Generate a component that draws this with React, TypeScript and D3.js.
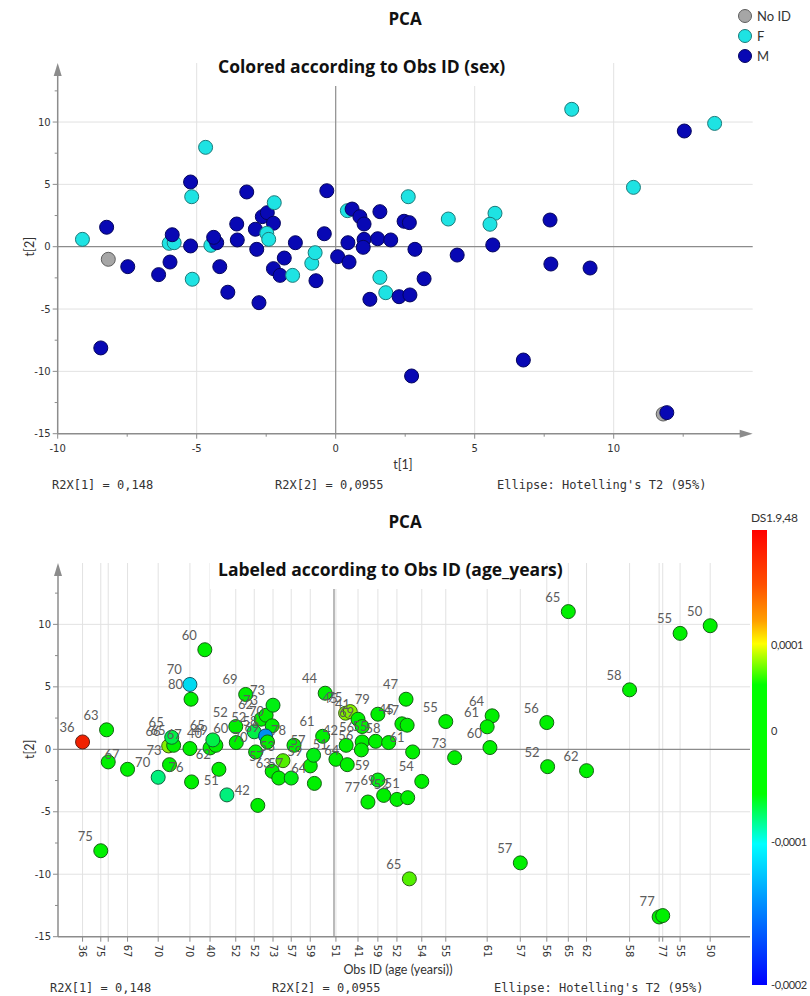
import React from "react";
import * as d3 from "d3";

// ---------- data ----------
const t1 = [
  -9.11, -8.24, -8.18, -7.48, -6.37, -5.96, -5.99, -5.81, -5.88, -5.22,
  -5.18, -5.22, -5.16, -4.68, -4.49, -4.28, -4.39, -4.17, -3.88, -3.56,
  -3.54, -3.2, -2.89, -2.84, -2.64, -2.46, -2.24, -2.48, -2.41, -2.21,
  -2.76, -2.24, -2.0, -1.85, -1.55, -1.45, -0.86, -0.74, -0.71, -0.41,
  -0.32, 0.07, 0.44, 0.48, 0.42, 0.59, 0.87, 1.02, 1.02, 0.99,
  1.51, 1.59, 1.59, 1.98, 2.46, 2.65, 2.61, 2.85, 3.18, 4.05,
  5.73, 5.55, 7.71, 4.37, 5.65, 7.74, 9.15, 8.49, 12.54, 13.63,
  10.71, -8.45, 1.23, 1.8, 2.28, 2.67, 2.73, 6.75, 11.78, 11.91,
];
const t2 = [
  0.59, 1.56, -1.01, -1.6, -2.24, -1.23, 0.27, 0.32, 0.96, 5.19,
  4.01, 0.06, -2.61, 7.97, 0.11, 0.32, 0.75, -1.6, -3.65, 1.82,
  0.54, 4.39, 1.4, -0.21, 2.41, 2.73, 1.88, 1.07, 0.59, 3.53,
  -4.49, -1.76, -2.3, -0.91, -2.3, 0.32, -1.33, -0.48, -2.73, 1.04,
  4.49, -0.8, 0.32, -1.23, 2.89, 3.02, 2.41, 1.82, 0.59, -0.05,
  0.64, 2.81, -2.46, 0.54, 2.04, 1.93, 4.01, -0.21, -2.57, 2.22,
  2.68, 1.8, 2.14, -0.67, 0.14, -1.39, -1.71, 11.02, 9.28, 9.89,
  4.76, -8.12, -4.22, -3.69, -4.01, -3.87, -10.37, -9.09, -13.42, -13.31,
];
const sex = [
  "F", "M", "N", "M", "M", "M", "F", "F", "M", "M",
  "F", "M", "F", "F", "F", "M", "M", "M", "M", "M",
  "M", "M", "M", "M", "M", "M", "M", "F", "F", "F",
  "M", "M", "M", "M", "F", "M", "F", "F", "M", "M",
  "M", "M", "M", "M", "F", "M", "M", "M", "M", "M",
  "M", "M", "F", "M", "M", "M", "F", "M", "M", "F",
  "F", "F", "M", "M", "M", "M", "M", "F", "M", "F",
  "F", "M", "M", "F", "M", "M", "M", "M", "N", "M",
];
const age: (number | null)[] = [
  36, 63, null, 67, 70, 73, 66, 65, 65, 70,
  80, 67, 76, 60, 40, 49, 65, 62, 51, 52,
  60, 69, 52, 70, 62, 73, 70, 58, 69, 73,
  42, 57, 63, 53, 57, 78, 59, 57, 64, 61,
  44, 51, 42, 64, 45, 75, 41, 69, 56, 56,
  55, 79, 59, 58, 45, 47, 47, 61, 54, 55,
  64, 61, 56, 73, 60, 52, 62, 65, 55, 50,
  58, 75, 77, 69, 52, 51, 65, 57, null, 77,
];
const ds = [
  0.00018, 0, 0, 0, -0.00008, 0, 0.00008, 0, -0.00007, -0.00011,
  0, 0, 0, 0, 0, 0, -0.00007, 0, -0.00008, 0,
  0, 0, -0.00007, 0, 0, 0, 0, -0.00014, -0.00005, -0.00006,
  0, 0, 0, 0.00007, -0.00006, 0, 0, -0.00006, 0, 0,
  0, 0, 0, 0, 0.00008, 0.00008, 0, 0, 0, 0,
  0, 0, -0.00006, 0, 0, 0, 0, 0, 0, 0,
  0, 0, 0, 0, 0, 0, 0, 0, 0, 0,
  0, 0, 0, 0, 0, 0, 0.00007, 0, 0, 0,
];
// observations (1-based) whose age is written on the lower x axis
const axisObs = [1, 72, 3, 4, 5, 10, 15, 20, 23, 30, 35, 37, 42, 47, 53, 75, 59, 60, 62, 78, 63, 68, 67, 71, 79, 80, 69, 70];
const yTicks = [-15, -10, -5, 0, 5, 10];
const xTicks = [-10, -5, 0, 5, 10];
const minorTicks = [-12.5, -7.5, -2.5, 2.5, 7.5, 12.5];
const cbTicks = [0.0001, 0, -0.0001, -0.0002];
const sexCats = [
  { key: "N", label: "No ID" },
  { key: "F", label: "F" },
  { key: "M", label: "M" },
];

// ---------- styles ----------
const sexFill: Record<string, string> = { N: "#a6a6a6", F: "#1ee3e3", M: "#0808b4" };
const sexStroke: Record<string, string> = { N: "#5e5e5e", F: "#1d7a7a", M: "#05055e" };
const cbStops: [number, string][] = [
  [0, "#ff0000"], [0.12, "#ff5000"], [0.2, "#ffa000"], [0.25, "#ffff00"],
  [0.34, "#00ff00"], [0.58, "#00ff00"], [0.69, "#00ffff"], [0.82, "#0090ff"], [1, "#0000ff"],
];
const GRID = "#e2e2e2";
const ZERO = "#8c8c8c";
const AXIS = "#8c8c8c";
const TXT = "#333";
const MONO = "'DejaVu Sans Mono', monospace";
const SANS = "Lato, 'Open Sans', sans-serif";
const TITLE = "'Open Sans', sans-serif";
const TICKF = "'DejaVu Sans', sans-serif";

const n = t1.length;
const idx = d3.range(n);

function Axes({ x, y, yTopPx, xEnd, arrowX }: any) {
  const y0 = y(-15);
  const x0 = x(-10);
  return (
    <g>
      <line x1={x0} x2={x0} y1={y0} y2={yTopPx + 10} stroke={AXIS} strokeWidth={1.5} />
      <path d={`M${x0},${yTopPx} L${x0 - 4},${yTopPx + 13} L${x0 + 4},${yTopPx + 13} Z`} fill={AXIS} />
      <line x1={x0} x2={arrowX ? xEnd - 10 : xEnd} y1={y0} y2={y0} stroke={AXIS} strokeWidth={1.5} />
      {arrowX && <path d={`M${xEnd},${y0} L${xEnd - 13},${y0 - 4} L${xEnd - 13},${y0 + 4} Z`} fill={AXIS} />}
      {yTicks.map((v) => (
        <g key={"yt" + v}>
          <line x1={x0 - 5} x2={x0} y1={y(v)} y2={y(v)} stroke={AXIS} />
          <text x={x0 - 7} y={y(v)} dy="0.35em" textAnchor="end" fontSize={10} fontFamily={TICKF} fill={TXT}>{v}</text>
        </g>
      ))}
      {minorTicks.map((v) => (
        <line key={"ym" + v} x1={x0 - 3} x2={x0} y1={y(v)} y2={y(v)} stroke={AXIS} />
      ))}
    </g>
  );
}

export default function App() {
  // ---------- top chart ----------
  const xT = d3.scaleLinear().domain([-10, 15]).range([57.7, 752.7]);
  const yT = d3.scaleLinear().domain([-15, 0]).range([433.7, 246.7]);
  const topTip = 63;
  // ---------- bottom chart ----------
  const xB = d3.scaleLinear().domain([-10, 15]).range([58, 748]);
  const yB = d3.scaleLinear().domain([-15, 0]).range([936.7, 749.3]);
  const botTip = 563;
  const xBEnd = 750;
  // ---------- colour bar ----------
  const cbY = d3.scaleLinear().domain([-0.0002, -0.0001, 0, 0.0001, 0.0002]).range([985, 842, 731, 645, 530]);
  const cbTop = 530, cbBot = 985;
  const colorAt = d3.scaleLinear<string>().domain(cbStops.map((s) => s[0])).range(cbStops.map((s) => s[1])).interpolate(d3.interpolateRgb);
  const dsColor = (v: number) => d3.interpolateRgb(colorAt((cbY(v) - cbTop) / (cbBot - cbTop)), "#000")(0.06);
  const darken = (c: string) => d3.interpolateRgb(c, "#1e1e1e")(0.68);

  return (
    <svg width={810} height={996} style={{ position: "absolute", left: 0, top: 0, background: "#fff" }} xmlns="http://www.w3.org/2000/svg">
      <defs>
        <linearGradient id="cbgrad" x1="0" y1="0" x2="0" y2="1">
          {cbStops.map((s, i) => <stop key={i} offset={s[0]} stopColor={s[1]} />)}
        </linearGradient>
      </defs>
      <rect x={0} y={0} width={810} height={996} fill="#fff" />

      {/* ================= TOP ================= */}
      <text x={405} y={25} textAnchor="middle" fontFamily={TITLE} fontWeight="bold" fontSize={17} fill="#111">PCA</text>
      {/* gridlines */}
      {xTicks.filter((v) => v !== 0 && v !== -10).map((v) => (
        <line key={"gx" + v} x1={xT(v)} x2={xT(v)} y1={topTip} y2={yT(-15)} stroke={GRID} />
      ))}
      {yTicks.filter((v) => v !== 0 && v !== -15).map((v) => (
        <line key={"gy" + v} x1={xT(-10)} x2={xT(15)} y1={yT(v)} y2={yT(v)} stroke={GRID} />
      ))}
      <line x1={xT(0)} x2={xT(0)} y1={topTip} y2={yT(-15)} stroke={ZERO} strokeWidth={1.2} />
      <line x1={xT(-10)} x2={xT(15)} y1={yT(0)} y2={yT(0)} stroke={ZERO} strokeWidth={1.2} />
      <rect x={210} y={48} width={310} height={38} fill="#fff" />
      <text x={218} y={73} fontFamily={TITLE} fontWeight="bold" fontSize={17.5} fill="#111">Colored according to Obs ID (sex)</text>
      <Axes x={xT} y={yT} yTopPx={topTip} xEnd={xT(15)} arrowX={true} />
      {xTicks.map((v) => (
        <g key={"xt" + v}>
          <line x1={xT(v)} x2={xT(v)} y1={yT(-15)} y2={yT(-15) + 5} stroke={AXIS} />
          <text x={xT(v)} y={yT(-15) + 18} textAnchor="middle" fontSize={10} fontFamily={TICKF} fill={TXT}>{v}</text>
        </g>
      ))}
      {minorTicks.map((v) => (
        <line key={"xm" + v} x1={xT(v)} x2={xT(v)} y1={yT(-15)} y2={yT(-15) + 3} stroke={AXIS} />
      ))}
      {/* points */}
      {idx.map((i) => (
        <circle key={"pt" + i} cx={xT(t1[i])} cy={yT(t2[i])} r={7} fill={sexFill[sex[i]]} stroke={sexStroke[sex[i]]} strokeWidth={1} />
      ))}
      <text x={403} y={469} textAnchor="middle" fontFamily={SANS} fontSize={12.5} fill={TXT}>t[1]</text>
      <text transform={`translate(34,${yT(0)}) rotate(-90)`} textAnchor="middle" fontFamily={SANS} fontSize={12.5} fill={TXT}>t[2]</text>
      <text x={52} y={489} fontFamily={MONO} fontSize={12} fill={TXT} xmlSpace="preserve">R2X[1] = 0,148</text>
      <text x={275} y={489} fontFamily={MONO} fontSize={12} fill={TXT} xmlSpace="preserve">R2X[2] = 0,0955</text>
      <text x={497} y={489} fontFamily={MONO} fontSize={12} fill={TXT} xmlSpace="preserve">Ellipse: Hotelling's T2 (95%)</text>
      {/* legend */}
      {sexCats.map((c, k) => (
        <g key={"lg" + c.key}>
          <circle cx={745} cy={16 + k * 20} r={6.5} fill={sexFill[c.key]} stroke={sexStroke[c.key]} />
          <text x={757} y={16 + k * 20} dy="0.35em" fontFamily={SANS} fontSize={13} fill={TXT}>{c.label}</text>
        </g>
      ))}

      {/* ================= BOTTOM ================= */}
      <text x={405} y={528} textAnchor="middle" fontFamily={TITLE} fontWeight="bold" fontSize={17} fill="#111">PCA</text>
      {axisObs.map((o) => (
        <line key={"bgx" + o} x1={xB(t1[o - 1])} x2={xB(t1[o - 1])} y1={botTip} y2={yB(-15)} stroke={GRID} />
      ))}
      {yTicks.filter((v) => v !== 0 && v !== -15).map((v) => (
        <line key={"bgy" + v} x1={xB(-10)} x2={xBEnd} y1={yB(v)} y2={yB(v)} stroke={GRID} />
      ))}
      <line x1={xB(0)} x2={xB(0)} y1={botTip} y2={yB(-15)} stroke={ZERO} strokeWidth={1.2} />
      <line x1={xB(-10)} x2={xBEnd} y1={yB(0)} y2={yB(0)} stroke={ZERO} strokeWidth={1.2} />
      <rect x={210} y={550} width={335} height={39} fill="#fff" />
      <text x={218} y={576} fontFamily={TITLE} fontWeight="bold" fontSize={17.5} fill="#111">Labeled according to Obs ID (age_years)</text>
      <Axes x={xB} y={yB} yTopPx={botTip} xEnd={xBEnd} arrowX={false} />
      {axisObs.map((o) => (
        <g key={"bxt" + o}>
          <line x1={xB(t1[o - 1])} x2={xB(t1[o - 1])} y1={yB(-15)} y2={yB(-15) + 5} stroke={AXIS} />
          <text transform={`translate(${xB(t1[o - 1])},${yB(-15) + 8}) rotate(90)`} dy="0.35em" fontSize={10} fontFamily={TICKF} fill={TXT}>
            {age[o - 1] ?? ""}
          </text>
        </g>
      ))}
      {idx.map((i) => {
        const f = dsColor(ds[i]);
        return <circle key={"bp" + i} cx={xB(t1[i])} cy={yB(t2[i])} r={7} fill={f} stroke={darken(f)} strokeWidth={1} />;
      })}
      {idx.filter((i) => age[i] != null).map((i) => (
        <text key={"bl" + i} x={xB(t1[i]) - 8} y={yB(t2[i]) - 10} textAnchor="end" fontFamily={SANS} fontSize={13} fill="#5c5c5c">{age[i]}</text>
      ))}
      <text x={398} y={974} textAnchor="middle" fontFamily={SANS} fontSize={12.5} fill={TXT}>Obs ID (age (yearsi))</text>
      <text transform={`translate(34,${yB(0)}) rotate(-90)`} textAnchor="middle" fontFamily={SANS} fontSize={12.5} fill={TXT}>t[2]</text>
      <text x={50} y={992} fontFamily={MONO} fontSize={12} fill={TXT} xmlSpace="preserve">R2X[1] = 0,148</text>
      <text x={272} y={992} fontFamily={MONO} fontSize={12} fill={TXT} xmlSpace="preserve">R2X[2] = 0,0955</text>
      <text x={494} y={992} fontFamily={MONO} fontSize={12} fill={TXT} xmlSpace="preserve">Ellipse: Hotelling's T2 (95%)</text>

      {/* colour bar */}
      <rect x={752} y={cbTop} width={15} height={cbBot - cbTop} fill="url(#cbgrad)" />
      <text x={751} y={522} fontFamily={SANS} fontSize={12} fill={TXT} letterSpacing={-0.3}>DS1.9,48</text>
      {cbTicks.map((v) => (
        <text key={"cb" + v} x={771} y={cbY(v)} dy="0.35em" fontFamily={SANS} fontSize={11} fill={TXT} letterSpacing={-0.4}>
          {String(v).replace(".", ",")}
        </text>
      ))}
    </svg>
  );
}
